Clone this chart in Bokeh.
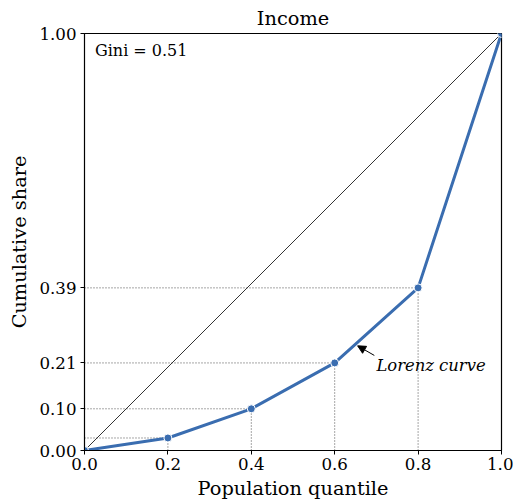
from bokeh.plotting import figure
from bokeh.models import (Range1d, FixedTicker, Label, Arrow, NormalHead,
                          CustomJSTickFormatter, ColumnDataSource)
from bokeh.embed import file_html
from bokeh.resources import INLINE

# Lorenz curve data: cumulative population share vs. cumulative income share
quantile = [0.0, 0.2, 0.4, 0.6, 0.8, 1.0]
cum_share = [0.0, 0.03, 0.10, 0.21, 0.39, 1.00]
x_ticks = [0.0, 0.2, 0.4, 0.6, 0.8, 1.0]
y_ticks = [0.0, 0.10, 0.21, 0.39, 1.00]

# Gini coefficient from trapezoid area under the curve
area = sum((quantile[i + 1] - quantile[i]) * (cum_share[i] + cum_share[i + 1]) / 2
           for i in range(len(quantile) - 1))
gini = 1 - 2 * area

FONT = "DejaVu Serif"
BLUE = "#3a6db0"

p = figure(width=513, height=502, output_backend="svg", toolbar_location=None,
           x_range=Range1d(0, 1), y_range=Range1d(0, 1),
           min_border_left=84, min_border_right=12, min_border_top=33,
           min_border_bottom=51, title="Income")

p.title.align = "center"
p.title.text_font = FONT
p.title.text_font_size = "14.5pt"
p.title.text_font_style = "normal"
p.title.text_color = "black"
p.title.standoff = 7

p.xgrid.visible = False
p.ygrid.visible = False
p.outline_line_color = "black"
p.outline_line_width = 1.2
p.outline_line_alpha = 1.0

for ax in (p.xaxis[0], p.yaxis[0]):
    ax.major_label_text_font = FONT
    ax.major_label_text_font_size = "12.5pt"
    ax.major_label_text_color = "black"
    ax.axis_label_text_font = FONT
    ax.axis_label_text_font_size = "14.5pt"
    ax.axis_label_text_font_style = "normal"
    ax.axis_label_text_color = "black"
    ax.axis_line_color = "black"
    ax.major_tick_line_color = "black"
    ax.major_tick_out = 4
    ax.major_tick_in = 0
    ax.minor_tick_line_color = None

p.xaxis.ticker = FixedTicker(ticks=x_ticks)
p.yaxis.ticker = FixedTicker(ticks=y_ticks)
p.xaxis.formatter = CustomJSTickFormatter(code="return tick.toFixed(1);")
p.yaxis.formatter = CustomJSTickFormatter(code="return tick.toFixed(2);")
p.xaxis.axis_label = "Population quantile"
p.yaxis.axis_label = "Cumulative share"
p.xaxis.axis_label_standoff = 4
p.yaxis.axis_label_standoff = 5
p.xaxis.major_label_standoff = 3
p.yaxis.major_label_standoff = 4

# Line of perfect equality
p.line([0, 1], [0, 1], line_color="black", line_width=0.8)

# Dotted guides from each interior point to both axes
for qx, sy in zip(quantile[1:-1], cum_share[1:-1]):
    p.line([0, qx], [sy, sy], line_color="#222222", line_width=0.8, line_dash="1 2")
    p.line([qx, qx], [0, sy], line_color="#222222", line_width=0.8, line_dash="1 2")

src = ColumnDataSource(dict(x=quantile, y=cum_share))
p.line("x", "y", source=src, line_color=BLUE, line_width=3)
p.scatter("x", "y", source=src, size=8, fill_color=BLUE, line_color="white",
          line_width=1)

p.add_layout(Label(x=0.025, y=0.96, text=f"Gini = {gini:.2f}", text_font=FONT,
                   text_font_size="12pt", text_color="black",
                   text_baseline="middle"))

p.add_layout(Label(x=0.70, y=0.205, text="Lorenz curve", text_font=FONT,
                   text_font_size="12.3pt", text_font_style="italic",
                   text_color="black", text_baseline="middle"))
p.add_layout(Arrow(x_start=0.695, y_start=0.228, x_end=0.655, y_end=0.251,
                   line_color="black", line_width=1,
                   end=NormalHead(size=8, fill_color="black", line_color="black")))

open("out.html", "w").write(file_html(p, INLINE))
